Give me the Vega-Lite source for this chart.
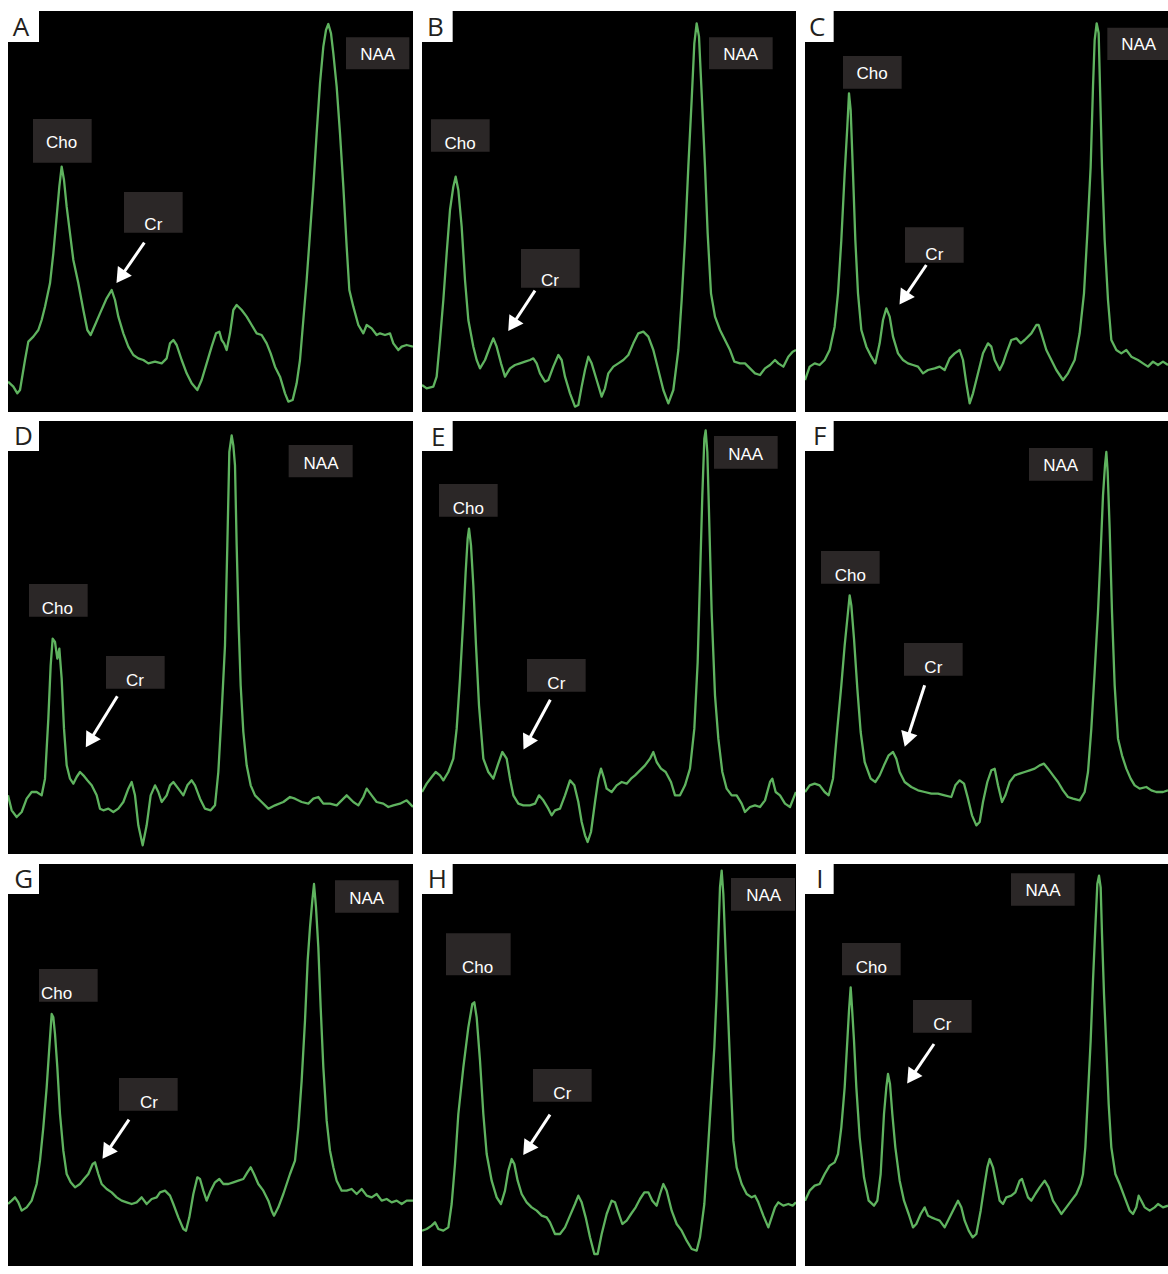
{
"$schema":"https://vega.github.io/schema/vega-lite/v6.json",
"background":"white",
"padding":{"left":8,"top":11,"right":0,"bottom":0},
"config":{"view":{"stroke":null,"fill":"black"}},
"datasets":{
"spec":[
{"p":"A","x":24,"y":1145},{"p":"A","x":40,"y":1160},{"p":"A","x":52,"y":1180},{"p":"A","x":60,"y":1170},{"p":"A","x":75,"y":1080},{"p":"A","x":85,"y":1025},{"p":"A","x":100,"y":1010},{"p":"A","x":115,"y":990},{"p":"A","x":125,"y":960},{"p":"A","x":135,"y":920},{"p":"A","x":150,"y":850},{"p":"A","x":160,"y":760},{"p":"A","x":170,"y":650},{"p":"A","x":178,"y":560},{"p":"A","x":185,"y":500},{"p":"A","x":192,"y":540},{"p":"A","x":200,"y":620},{"p":"A","x":210,"y":700},{"p":"A","x":220,"y":780},{"p":"A","x":235,"y":850},{"p":"A","x":250,"y":930},{"p":"A","x":262,"y":990},{"p":"A","x":272,"y":1005},{"p":"A","x":285,"y":975},{"p":"A","x":300,"y":940},{"p":"A","x":320,"y":895},{"p":"A","x":335,"y":870},{"p":"A","x":345,"y":900},{"p":"A","x":355,"y":950},{"p":"A","x":370,"y":1000},{"p":"A","x":385,"y":1040},{"p":"A","x":400,"y":1065},{"p":"A","x":415,"y":1075},{"p":"A","x":430,"y":1080},{"p":"A","x":445,"y":1090},{"p":"A","x":465,"y":1085},{"p":"A","x":485,"y":1090},{"p":"A","x":500,"y":1075},{"p":"A","x":510,"y":1030},{"p":"A","x":520,"y":1020},{"p":"A","x":530,"y":1035},{"p":"A","x":545,"y":1080},{"p":"A","x":560,"y":1120},{"p":"A","x":575,"y":1150},{"p":"A","x":592,"y":1170},{"p":"A","x":605,"y":1140},{"p":"A","x":620,"y":1090},{"p":"A","x":635,"y":1040},{"p":"A","x":648,"y":1000},{"p":"A","x":658,"y":995},{"p":"A","x":665,"y":1020},{"p":"A","x":672,"y":1030},{"p":"A","x":680,"y":1050},{"p":"A","x":690,"y":1000},{"p":"A","x":700,"y":930},{"p":"A","x":710,"y":915},{"p":"A","x":725,"y":930},{"p":"A","x":740,"y":950},{"p":"A","x":755,"y":975},{"p":"A","x":770,"y":1000},{"p":"A","x":785,"y":1005},{"p":"A","x":800,"y":1030},{"p":"A","x":812,"y":1060},{"p":"A","x":825,"y":1100},{"p":"A","x":840,"y":1130},{"p":"A","x":855,"y":1180},{"p":"A","x":865,"y":1205},{"p":"A","x":878,"y":1200},{"p":"A","x":890,"y":1150},{"p":"A","x":900,"y":1080},{"p":"A","x":910,"y":960},{"p":"A","x":920,"y":840},{"p":"A","x":930,"y":700},{"p":"A","x":940,"y":560},{"p":"A","x":950,"y":400},{"p":"A","x":960,"y":250},{"p":"A","x":970,"y":140},{"p":"A","x":978,"y":90},{"p":"A","x":985,"y":72},{"p":"A","x":993,"y":100},{"p":"A","x":1000,"y":160},{"p":"A","x":1010,"y":260},{"p":"A","x":1020,"y":400},{"p":"A","x":1030,"y":560},{"p":"A","x":1040,"y":740},{"p":"A","x":1048,"y":870},{"p":"A","x":1060,"y":920},{"p":"A","x":1075,"y":975},{"p":"A","x":1090,"y":1000},{"p":"A","x":1100,"y":975},{"p":"A","x":1115,"y":985},{"p":"A","x":1130,"y":1005},{"p":"A","x":1140,"y":1000},{"p":"A","x":1155,"y":1005},{"p":"A","x":1170,"y":1000},{"p":"A","x":1180,"y":1030},{"p":"A","x":1195,"y":1050},{"p":"A","x":1205,"y":1040},{"p":"A","x":1220,"y":1035},{"p":"A","x":1239,"y":1040},
{"p":"B","x":21,"y":1155},{"p":"B","x":35,"y":1165},{"p":"B","x":55,"y":1160},{"p":"B","x":65,"y":1130},{"p":"B","x":75,"y":1020},{"p":"B","x":85,"y":900},{"p":"B","x":95,"y":760},{"p":"B","x":105,"y":630},{"p":"B","x":115,"y":560},{"p":"B","x":122,"y":530},{"p":"B","x":130,"y":570},{"p":"B","x":140,"y":680},{"p":"B","x":150,"y":840},{"p":"B","x":160,"y":960},{"p":"B","x":175,"y":1040},{"p":"B","x":185,"y":1080},{"p":"B","x":195,"y":1105},{"p":"B","x":210,"y":1080},{"p":"B","x":225,"y":1040},{"p":"B","x":235,"y":1015},{"p":"B","x":245,"y":1040},{"p":"B","x":258,"y":1090},{"p":"B","x":270,"y":1130},{"p":"B","x":285,"y":1105},{"p":"B","x":300,"y":1095},{"p":"B","x":315,"y":1090},{"p":"B","x":330,"y":1085},{"p":"B","x":345,"y":1080},{"p":"B","x":355,"y":1075},{"p":"B","x":365,"y":1090},{"p":"B","x":375,"y":1120},{"p":"B","x":390,"y":1145},{"p":"B","x":400,"y":1140},{"p":"B","x":415,"y":1100},{"p":"B","x":430,"y":1065},{"p":"B","x":440,"y":1080},{"p":"B","x":450,"y":1130},{"p":"B","x":465,"y":1180},{"p":"B","x":480,"y":1220},{"p":"B","x":490,"y":1215},{"p":"B","x":500,"y":1160},{"p":"B","x":510,"y":1110},{"p":"B","x":520,"y":1070},{"p":"B","x":530,"y":1090},{"p":"B","x":545,"y":1140},{"p":"B","x":560,"y":1190},{"p":"B","x":570,"y":1165},{"p":"B","x":580,"y":1120},{"p":"B","x":595,"y":1100},{"p":"B","x":610,"y":1090},{"p":"B","x":625,"y":1080},{"p":"B","x":640,"y":1065},{"p":"B","x":655,"y":1030},{"p":"B","x":670,"y":1000},{"p":"B","x":685,"y":995},{"p":"B","x":700,"y":1010},{"p":"B","x":715,"y":1050},{"p":"B","x":730,"y":1110},{"p":"B","x":745,"y":1170},{"p":"B","x":760,"y":1210},{"p":"B","x":775,"y":1170},{"p":"B","x":790,"y":1050},{"p":"B","x":800,"y":900},{"p":"B","x":810,"y":720},{"p":"B","x":820,"y":500},{"p":"B","x":830,"y":300},{"p":"B","x":838,"y":130},{"p":"B","x":845,"y":70},{"p":"B","x":852,"y":110},{"p":"B","x":860,"y":280},{"p":"B","x":870,"y":500},{"p":"B","x":878,"y":700},{"p":"B","x":888,"y":880},{"p":"B","x":900,"y":950},{"p":"B","x":915,"y":990},{"p":"B","x":930,"y":1020},{"p":"B","x":945,"y":1050},{"p":"B","x":958,"y":1085},{"p":"B","x":975,"y":1090},{"p":"B","x":990,"y":1090},{"p":"B","x":1005,"y":1105},{"p":"B","x":1020,"y":1120},{"p":"B","x":1035,"y":1125},{"p":"B","x":1050,"y":1105},{"p":"B","x":1065,"y":1095},{"p":"B","x":1080,"y":1080},{"p":"B","x":1090,"y":1090},{"p":"B","x":1105,"y":1100},{"p":"B","x":1120,"y":1070},{"p":"B","x":1133,"y":1055},{"p":"B","x":1143,"y":1050},
{"p":"C","x":21,"y":1140},{"p":"C","x":35,"y":1100},{"p":"C","x":50,"y":1090},{"p":"C","x":65,"y":1095},{"p":"C","x":80,"y":1080},{"p":"C","x":95,"y":1050},{"p":"C","x":110,"y":980},{"p":"C","x":120,"y":880},{"p":"C","x":130,"y":720},{"p":"C","x":140,"y":520},{"p":"C","x":148,"y":380},{"p":"C","x":153,"y":280},{"p":"C","x":158,"y":330},{"p":"C","x":165,"y":520},{"p":"C","x":172,"y":720},{"p":"C","x":180,"y":880},{"p":"C","x":190,"y":990},{"p":"C","x":205,"y":1040},{"p":"C","x":220,"y":1070},{"p":"C","x":232,"y":1090},{"p":"C","x":245,"y":1030},{"p":"C","x":255,"y":960},{"p":"C","x":265,"y":925},{"p":"C","x":275,"y":950},{"p":"C","x":285,"y":1010},{"p":"C","x":300,"y":1060},{"p":"C","x":315,"y":1080},{"p":"C","x":330,"y":1090},{"p":"C","x":345,"y":1095},{"p":"C","x":360,"y":1100},{"p":"C","x":375,"y":1120},{"p":"C","x":390,"y":1110},{"p":"C","x":410,"y":1105},{"p":"C","x":425,"y":1100},{"p":"C","x":440,"y":1110},{"p":"C","x":455,"y":1075},{"p":"C","x":470,"y":1060},{"p":"C","x":485,"y":1050},{"p":"C","x":495,"y":1080},{"p":"C","x":505,"y":1150},{"p":"C","x":515,"y":1210},{"p":"C","x":525,"y":1180},{"p":"C","x":540,"y":1120},{"p":"C","x":555,"y":1060},{"p":"C","x":570,"y":1030},{"p":"C","x":580,"y":1040},{"p":"C","x":590,"y":1080},{"p":"C","x":605,"y":1110},{"p":"C","x":615,"y":1090},{"p":"C","x":625,"y":1060},{"p":"C","x":640,"y":1020},{"p":"C","x":655,"y":1015},{"p":"C","x":668,"y":1030},{"p":"C","x":680,"y":1020},{"p":"C","x":700,"y":1000},{"p":"C","x":715,"y":975},{"p":"C","x":722,"y":975},{"p":"C","x":730,"y":1000},{"p":"C","x":745,"y":1050},{"p":"C","x":760,"y":1080},{"p":"C","x":775,"y":1110},{"p":"C","x":795,"y":1140},{"p":"C","x":810,"y":1120},{"p":"C","x":830,"y":1080},{"p":"C","x":845,"y":1000},{"p":"C","x":858,"y":880},{"p":"C","x":868,"y":700},{"p":"C","x":878,"y":500},{"p":"C","x":885,"y":260},{"p":"C","x":890,"y":120},{"p":"C","x":896,"y":70},{"p":"C","x":902,"y":100},{"p":"C","x":906,"y":260},{"p":"C","x":912,"y":500},{"p":"C","x":920,"y":720},{"p":"C","x":930,"y":900},{"p":"C","x":940,"y":1020},{"p":"C","x":955,"y":1050},{"p":"C","x":970,"y":1060},{"p":"C","x":985,"y":1050},{"p":"C","x":1000,"y":1070},{"p":"C","x":1020,"y":1080},{"p":"C","x":1035,"y":1090},{"p":"C","x":1050,"y":1100},{"p":"C","x":1065,"y":1085},{"p":"C","x":1080,"y":1095},{"p":"C","x":1095,"y":1085},{"p":"C","x":1110,"y":1095},
{"p":"D","x":24,"y":1150},{"p":"D","x":35,"y":1195},{"p":"D","x":50,"y":1215},{"p":"D","x":65,"y":1200},{"p":"D","x":80,"y":1160},{"p":"D","x":95,"y":1140},{"p":"D","x":110,"y":1140},{"p":"D","x":125,"y":1150},{"p":"D","x":135,"y":1100},{"p":"D","x":145,"y":920},{"p":"D","x":152,"y":760},{"p":"D","x":158,"y":680},{"p":"D","x":165,"y":690},{"p":"D","x":172,"y":740},{"p":"D","x":178,"y":710},{"p":"D","x":185,"y":800},{"p":"D","x":192,"y":950},{"p":"D","x":200,"y":1060},{"p":"D","x":210,"y":1100},{"p":"D","x":220,"y":1115},{"p":"D","x":230,"y":1095},{"p":"D","x":240,"y":1080},{"p":"D","x":250,"y":1090},{"p":"D","x":262,"y":1105},{"p":"D","x":275,"y":1120},{"p":"D","x":290,"y":1150},{"p":"D","x":300,"y":1190},{"p":"D","x":310,"y":1195},{"p":"D","x":325,"y":1190},{"p":"D","x":340,"y":1200},{"p":"D","x":355,"y":1190},{"p":"D","x":370,"y":1170},{"p":"D","x":385,"y":1130},{"p":"D","x":395,"y":1110},{"p":"D","x":405,"y":1150},{"p":"D","x":415,"y":1240},{"p":"D","x":428,"y":1300},{"p":"D","x":440,"y":1240},{"p":"D","x":452,"y":1150},{"p":"D","x":465,"y":1120},{"p":"D","x":475,"y":1140},{"p":"D","x":485,"y":1170},{"p":"D","x":500,"y":1150},{"p":"D","x":510,"y":1120},{"p":"D","x":520,"y":1110},{"p":"D","x":535,"y":1130},{"p":"D","x":550,"y":1150},{"p":"D","x":562,"y":1120},{"p":"D","x":575,"y":1105},{"p":"D","x":585,"y":1120},{"p":"D","x":600,"y":1160},{"p":"D","x":615,"y":1190},{"p":"D","x":632,"y":1195},{"p":"D","x":645,"y":1180},{"p":"D","x":655,"y":1080},{"p":"D","x":665,"y":900},{"p":"D","x":675,"y":700},{"p":"D","x":682,"y":400},{"p":"D","x":688,"y":120},{"p":"D","x":695,"y":70},{"p":"D","x":700,"y":100},{"p":"D","x":705,"y":160},{"p":"D","x":710,"y":400},{"p":"D","x":716,"y":640},{"p":"D","x":722,"y":820},{"p":"D","x":730,"y":960},{"p":"D","x":740,"y":1060},{"p":"D","x":752,"y":1120},{"p":"D","x":765,"y":1150},{"p":"D","x":785,"y":1170},{"p":"D","x":805,"y":1190},{"p":"D","x":825,"y":1180},{"p":"D","x":850,"y":1170},{"p":"D","x":870,"y":1155},{"p":"D","x":885,"y":1160},{"p":"D","x":905,"y":1170},{"p":"D","x":925,"y":1175},{"p":"D","x":940,"y":1160},{"p":"D","x":955,"y":1155},{"p":"D","x":970,"y":1175},{"p":"D","x":990,"y":1175},{"p":"D","x":1010,"y":1180},{"p":"D","x":1025,"y":1165},{"p":"D","x":1040,"y":1150},{"p":"D","x":1060,"y":1170},{"p":"D","x":1075,"y":1180},{"p":"D","x":1090,"y":1155},{"p":"D","x":1100,"y":1130},{"p":"D","x":1115,"y":1150},{"p":"D","x":1130,"y":1170},{"p":"D","x":1150,"y":1175},{"p":"D","x":1165,"y":1185},{"p":"D","x":1180,"y":1180},{"p":"D","x":1200,"y":1175},{"p":"D","x":1220,"y":1165},{"p":"D","x":1239,"y":1185},
{"p":"E","x":21,"y":1140},{"p":"E","x":35,"y":1115},{"p":"E","x":50,"y":1095},{"p":"E","x":62,"y":1080},{"p":"E","x":75,"y":1090},{"p":"E","x":85,"y":1105},{"p":"E","x":100,"y":1080},{"p":"E","x":115,"y":1040},{"p":"E","x":125,"y":950},{"p":"E","x":135,"y":800},{"p":"E","x":145,"y":620},{"p":"E","x":152,"y":480},{"p":"E","x":158,"y":380},{"p":"E","x":162,"y":350},{"p":"E","x":168,"y":400},{"p":"E","x":175,"y":520},{"p":"E","x":183,"y":700},{"p":"E","x":192,"y":880},{"p":"E","x":205,"y":1040},{"p":"E","x":220,"y":1080},{"p":"E","x":235,"y":1100},{"p":"E","x":248,"y":1060},{"p":"E","x":262,"y":1020},{"p":"E","x":275,"y":1040},{"p":"E","x":285,"y":1100},{"p":"E","x":295,"y":1150},{"p":"E","x":310,"y":1175},{"p":"E","x":325,"y":1180},{"p":"E","x":345,"y":1180},{"p":"E","x":360,"y":1175},{"p":"E","x":372,"y":1150},{"p":"E","x":385,"y":1165},{"p":"E","x":400,"y":1190},{"p":"E","x":410,"y":1210},{"p":"E","x":420,"y":1195},{"p":"E","x":435,"y":1190},{"p":"E","x":450,"y":1150},{"p":"E","x":465,"y":1105},{"p":"E","x":478,"y":1120},{"p":"E","x":490,"y":1170},{"p":"E","x":500,"y":1230},{"p":"E","x":510,"y":1270},{"p":"E","x":518,"y":1290},{"p":"E","x":528,"y":1260},{"p":"E","x":540,"y":1170},{"p":"E","x":550,"y":1100},{"p":"E","x":558,"y":1070},{"p":"E","x":566,"y":1095},{"p":"E","x":575,"y":1130},{"p":"E","x":590,"y":1140},{"p":"E","x":605,"y":1120},{"p":"E","x":620,"y":1110},{"p":"E","x":635,"y":1115},{"p":"E","x":648,"y":1100},{"p":"E","x":660,"y":1090},{"p":"E","x":675,"y":1075},{"p":"E","x":690,"y":1060},{"p":"E","x":705,"y":1040},{"p":"E","x":715,"y":1020},{"p":"E","x":725,"y":1050},{"p":"E","x":738,"y":1070},{"p":"E","x":752,"y":1080},{"p":"E","x":768,"y":1110},{"p":"E","x":780,"y":1150},{"p":"E","x":795,"y":1150},{"p":"E","x":810,"y":1120},{"p":"E","x":825,"y":1070},{"p":"E","x":838,"y":950},{"p":"E","x":848,"y":750},{"p":"E","x":855,"y":500},{"p":"E","x":862,"y":250},{"p":"E","x":868,"y":80},{"p":"E","x":872,"y":55},{"p":"E","x":877,"y":120},{"p":"E","x":882,"y":300},{"p":"E","x":890,"y":600},{"p":"E","x":900,"y":850},{"p":"E","x":910,"y":980},{"p":"E","x":922,"y":1080},{"p":"E","x":935,"y":1130},{"p":"E","x":950,"y":1150},{"p":"E","x":965,"y":1150},{"p":"E","x":980,"y":1175},{"p":"E","x":990,"y":1200},{"p":"E","x":1005,"y":1185},{"p":"E","x":1020,"y":1180},{"p":"E","x":1035,"y":1185},{"p":"E","x":1050,"y":1165},{"p":"E","x":1065,"y":1110},{"p":"E","x":1072,"y":1100},{"p":"E","x":1082,"y":1140},{"p":"E","x":1095,"y":1150},{"p":"E","x":1110,"y":1175},{"p":"E","x":1125,"y":1185},{"p":"E","x":1135,"y":1160},{"p":"E","x":1143,"y":1140},
{"p":"F","x":21,"y":1140},{"p":"F","x":35,"y":1120},{"p":"F","x":50,"y":1115},{"p":"F","x":65,"y":1120},{"p":"F","x":80,"y":1140},{"p":"F","x":92,"y":1150},{"p":"F","x":105,"y":1100},{"p":"F","x":118,"y":950},{"p":"F","x":130,"y":820},{"p":"F","x":140,"y":700},{"p":"F","x":150,"y":600},{"p":"F","x":155,"y":550},{"p":"F","x":160,"y":580},{"p":"F","x":168,"y":680},{"p":"F","x":178,"y":830},{"p":"F","x":188,"y":960},{"p":"F","x":200,"y":1050},{"p":"F","x":218,"y":1100},{"p":"F","x":232,"y":1110},{"p":"F","x":245,"y":1090},{"p":"F","x":258,"y":1060},{"p":"F","x":272,"y":1030},{"p":"F","x":285,"y":1020},{"p":"F","x":295,"y":1040},{"p":"F","x":305,"y":1080},{"p":"F","x":320,"y":1110},{"p":"F","x":340,"y":1125},{"p":"F","x":360,"y":1135},{"p":"F","x":380,"y":1140},{"p":"F","x":400,"y":1145},{"p":"F","x":420,"y":1145},{"p":"F","x":440,"y":1150},{"p":"F","x":460,"y":1155},{"p":"F","x":472,"y":1120},{"p":"F","x":485,"y":1105},{"p":"F","x":498,"y":1115},{"p":"F","x":510,"y":1160},{"p":"F","x":522,"y":1210},{"p":"F","x":535,"y":1240},{"p":"F","x":545,"y":1230},{"p":"F","x":555,"y":1170},{"p":"F","x":568,"y":1110},{"p":"F","x":580,"y":1075},{"p":"F","x":590,"y":1070},{"p":"F","x":600,"y":1120},{"p":"F","x":612,"y":1170},{"p":"F","x":622,"y":1150},{"p":"F","x":635,"y":1110},{"p":"F","x":650,"y":1090},{"p":"F","x":665,"y":1085},{"p":"F","x":680,"y":1080},{"p":"F","x":695,"y":1075},{"p":"F","x":710,"y":1070},{"p":"F","x":725,"y":1060},{"p":"F","x":738,"y":1055},{"p":"F","x":750,"y":1070},{"p":"F","x":765,"y":1090},{"p":"F","x":780,"y":1110},{"p":"F","x":795,"y":1135},{"p":"F","x":810,"y":1155},{"p":"F","x":825,"y":1160},{"p":"F","x":845,"y":1165},{"p":"F","x":860,"y":1140},{"p":"F","x":870,"y":1080},{"p":"F","x":880,"y":950},{"p":"F","x":890,"y":780},{"p":"F","x":900,"y":600},{"p":"F","x":908,"y":420},{"p":"F","x":915,"y":250},{"p":"F","x":921,"y":160},{"p":"F","x":925,"y":120},{"p":"F","x":929,"y":180},{"p":"F","x":935,"y":350},{"p":"F","x":942,"y":600},{"p":"F","x":950,"y":820},{"p":"F","x":960,"y":980},{"p":"F","x":972,"y":1030},{"p":"F","x":985,"y":1070},{"p":"F","x":998,"y":1100},{"p":"F","x":1010,"y":1120},{"p":"F","x":1025,"y":1130},{"p":"F","x":1045,"y":1125},{"p":"F","x":1060,"y":1135},{"p":"F","x":1075,"y":1140},{"p":"F","x":1095,"y":1140},{"p":"F","x":1110,"y":1135},
{"p":"G","x":24,"y":1050},{"p":"G","x":35,"y":1040},{"p":"G","x":45,"y":1030},{"p":"G","x":55,"y":1045},{"p":"G","x":65,"y":1070},{"p":"G","x":80,"y":1060},{"p":"G","x":95,"y":1040},{"p":"G","x":110,"y":990},{"p":"G","x":120,"y":920},{"p":"G","x":130,"y":820},{"p":"G","x":140,"y":700},{"p":"G","x":148,"y":580},{"p":"G","x":155,"y":480},{"p":"G","x":160,"y":490},{"p":"G","x":165,"y":540},{"p":"G","x":172,"y":640},{"p":"G","x":180,"y":780},{"p":"G","x":190,"y":890},{"p":"G","x":200,"y":960},{"p":"G","x":212,"y":985},{"p":"G","x":225,"y":1000},{"p":"G","x":240,"y":990},{"p":"G","x":252,"y":975},{"p":"G","x":265,"y":960},{"p":"G","x":278,"y":930},{"p":"G","x":285,"y":925},{"p":"G","x":295,"y":960},{"p":"G","x":305,"y":990},{"p":"G","x":320,"y":1005},{"p":"G","x":335,"y":1015},{"p":"G","x":350,"y":1030},{"p":"G","x":365,"y":1040},{"p":"G","x":380,"y":1045},{"p":"G","x":395,"y":1050},{"p":"G","x":410,"y":1045},{"p":"G","x":425,"y":1030},{"p":"G","x":440,"y":1050},{"p":"G","x":455,"y":1035},{"p":"G","x":470,"y":1030},{"p":"G","x":480,"y":1015},{"p":"G","x":495,"y":1010},{"p":"G","x":510,"y":1025},{"p":"G","x":520,"y":1050},{"p":"G","x":535,"y":1090},{"p":"G","x":550,"y":1125},{"p":"G","x":558,"y":1130},{"p":"G","x":568,"y":1090},{"p":"G","x":580,"y":1020},{"p":"G","x":592,"y":970},{"p":"G","x":600,"y":975},{"p":"G","x":610,"y":1010},{"p":"G","x":620,"y":1040},{"p":"G","x":632,"y":1010},{"p":"G","x":645,"y":985},{"p":"G","x":658,"y":975},{"p":"G","x":670,"y":990},{"p":"G","x":685,"y":990},{"p":"G","x":700,"y":985},{"p":"G","x":715,"y":980},{"p":"G","x":730,"y":975},{"p":"G","x":742,"y":955},{"p":"G","x":752,"y":940},{"p":"G","x":762,"y":960},{"p":"G","x":775,"y":990},{"p":"G","x":790,"y":1010},{"p":"G","x":805,"y":1040},{"p":"G","x":815,"y":1070},{"p":"G","x":822,"y":1085},{"p":"G","x":835,"y":1060},{"p":"G","x":850,"y":1020},{"p":"G","x":870,"y":960},{"p":"G","x":885,"y":920},{"p":"G","x":895,"y":820},{"p":"G","x":905,"y":680},{"p":"G","x":915,"y":500},{"p":"G","x":923,"y":320},{"p":"G","x":930,"y":220},{"p":"G","x":937,"y":140},{"p":"G","x":942,"y":90},{"p":"G","x":948,"y":160},{"p":"G","x":955,"y":280},{"p":"G","x":962,"y":460},{"p":"G","x":970,"y":640},{"p":"G","x":980,"y":800},{"p":"G","x":990,"y":890},{"p":"G","x":1000,"y":940},{"p":"G","x":1010,"y":980},{"p":"G","x":1025,"y":1010},{"p":"G","x":1040,"y":1010},{"p":"G","x":1055,"y":1005},{"p":"G","x":1070,"y":1020},{"p":"G","x":1085,"y":1005},{"p":"G","x":1100,"y":1025},{"p":"G","x":1115,"y":1030},{"p":"G","x":1130,"y":1020},{"p":"G","x":1145,"y":1040},{"p":"G","x":1160,"y":1035},{"p":"G","x":1175,"y":1045},{"p":"G","x":1190,"y":1040},{"p":"G","x":1205,"y":1050},{"p":"G","x":1220,"y":1040},{"p":"G","x":1239,"y":1040},
{"p":"H","x":21,"y":1130},{"p":"H","x":35,"y":1125},{"p":"H","x":50,"y":1115},{"p":"H","x":60,"y":1105},{"p":"H","x":70,"y":1125},{"p":"H","x":85,"y":1130},{"p":"H","x":100,"y":1120},{"p":"H","x":110,"y":1050},{"p":"H","x":120,"y":930},{"p":"H","x":130,"y":780},{"p":"H","x":145,"y":640},{"p":"H","x":160,"y":520},{"p":"H","x":172,"y":450},{"p":"H","x":178,"y":445},{"p":"H","x":185,"y":490},{"p":"H","x":195,"y":620},{"p":"H","x":205,"y":780},{"p":"H","x":215,"y":900},{"p":"H","x":230,"y":980},{"p":"H","x":245,"y":1030},{"p":"H","x":258,"y":1050},{"p":"H","x":270,"y":1010},{"p":"H","x":280,"y":950},{"p":"H","x":290,"y":915},{"p":"H","x":298,"y":930},{"p":"H","x":308,"y":980},{"p":"H","x":320,"y":1020},{"p":"H","x":335,"y":1045},{"p":"H","x":350,"y":1060},{"p":"H","x":365,"y":1070},{"p":"H","x":380,"y":1085},{"p":"H","x":395,"y":1090},{"p":"H","x":405,"y":1105},{"p":"H","x":420,"y":1140},{"p":"H","x":435,"y":1140},{"p":"H","x":450,"y":1120},{"p":"H","x":465,"y":1085},{"p":"H","x":480,"y":1050},{"p":"H","x":490,"y":1025},{"p":"H","x":500,"y":1045},{"p":"H","x":512,"y":1090},{"p":"H","x":525,"y":1150},{"p":"H","x":538,"y":1200},{"p":"H","x":548,"y":1200},{"p":"H","x":560,"y":1140},{"p":"H","x":575,"y":1080},{"p":"H","x":590,"y":1040},{"p":"H","x":600,"y":1045},{"p":"H","x":610,"y":1075},{"p":"H","x":622,"y":1110},{"p":"H","x":635,"y":1100},{"p":"H","x":648,"y":1080},{"p":"H","x":662,"y":1060},{"p":"H","x":675,"y":1035},{"p":"H","x":688,"y":1015},{"p":"H","x":700,"y":1015},{"p":"H","x":712,"y":1040},{"p":"H","x":725,"y":1055},{"p":"H","x":735,"y":1020},{"p":"H","x":745,"y":990},{"p":"H","x":755,"y":1010},{"p":"H","x":770,"y":1070},{"p":"H","x":785,"y":1110},{"p":"H","x":800,"y":1130},{"p":"H","x":815,"y":1160},{"p":"H","x":830,"y":1185},{"p":"H","x":845,"y":1190},{"p":"H","x":855,"y":1150},{"p":"H","x":868,"y":1050},{"p":"H","x":878,"y":900},{"p":"H","x":888,"y":740},{"p":"H","x":898,"y":580},{"p":"H","x":905,"y":420},{"p":"H","x":910,"y":250},{"p":"H","x":915,"y":100},{"p":"H","x":920,"y":50},{"p":"H","x":925,"y":120},{"p":"H","x":932,"y":300},{"p":"H","x":940,"y":500},{"p":"H","x":948,"y":700},{"p":"H","x":955,"y":860},{"p":"H","x":965,"y":940},{"p":"H","x":980,"y":990},{"p":"H","x":995,"y":1020},{"p":"H","x":1010,"y":1030},{"p":"H","x":1020,"y":1025},{"p":"H","x":1030,"y":1045},{"p":"H","x":1045,"y":1085},{"p":"H","x":1060,"y":1120},{"p":"H","x":1070,"y":1090},{"p":"H","x":1080,"y":1060},{"p":"H","x":1090,"y":1045},{"p":"H","x":1105,"y":1055},{"p":"H","x":1120,"y":1050},{"p":"H","x":1133,"y":1055},{"p":"H","x":1143,"y":1045},
{"p":"I","x":21,"y":1040},{"p":"I","x":35,"y":1010},{"p":"I","x":50,"y":995},{"p":"I","x":65,"y":990},{"p":"I","x":80,"y":960},{"p":"I","x":95,"y":935},{"p":"I","x":110,"y":925},{"p":"I","x":120,"y":900},{"p":"I","x":130,"y":820},{"p":"I","x":140,"y":700},{"p":"I","x":148,"y":560},{"p":"I","x":153,"y":470},{"p":"I","x":158,"y":400},{"p":"I","x":162,"y":460},{"p":"I","x":168,"y":560},{"p":"I","x":175,"y":700},{"p":"I","x":185,"y":850},{"p":"I","x":198,"y":970},{"p":"I","x":212,"y":1040},{"p":"I","x":228,"y":1055},{"p":"I","x":238,"y":1040},{"p":"I","x":248,"y":960},{"p":"I","x":258,"y":780},{"p":"I","x":265,"y":700},{"p":"I","x":270,"y":660},{"p":"I","x":276,"y":690},{"p":"I","x":283,"y":780},{"p":"I","x":292,"y":880},{"p":"I","x":305,"y":980},{"p":"I","x":318,"y":1040},{"p":"I","x":332,"y":1080},{"p":"I","x":345,"y":1120},{"p":"I","x":355,"y":1110},{"p":"I","x":368,"y":1080},{"p":"I","x":380,"y":1060},{"p":"I","x":390,"y":1085},{"p":"I","x":400,"y":1090},{"p":"I","x":412,"y":1095},{"p":"I","x":425,"y":1100},{"p":"I","x":440,"y":1120},{"p":"I","x":455,"y":1090},{"p":"I","x":470,"y":1060},{"p":"I","x":480,"y":1040},{"p":"I","x":490,"y":1060},{"p":"I","x":500,"y":1100},{"p":"I","x":512,"y":1130},{"p":"I","x":524,"y":1150},{"p":"I","x":535,"y":1140},{"p":"I","x":548,"y":1070},{"p":"I","x":560,"y":990},{"p":"I","x":568,"y":940},{"p":"I","x":575,"y":915},{"p":"I","x":585,"y":940},{"p":"I","x":595,"y":990},{"p":"I","x":605,"y":1040},{"p":"I","x":615,"y":1050},{"p":"I","x":625,"y":1030},{"p":"I","x":640,"y":1025},{"p":"I","x":652,"y":1015},{"p":"I","x":665,"y":980},{"p":"I","x":672,"y":975},{"p":"I","x":680,"y":1000},{"p":"I","x":690,"y":1030},{"p":"I","x":700,"y":1040},{"p":"I","x":712,"y":1020},{"p":"I","x":725,"y":1000},{"p":"I","x":740,"y":980},{"p":"I","x":752,"y":1000},{"p":"I","x":765,"y":1040},{"p":"I","x":778,"y":1060},{"p":"I","x":790,"y":1080},{"p":"I","x":805,"y":1060},{"p":"I","x":820,"y":1040},{"p":"I","x":835,"y":1020},{"p":"I","x":848,"y":990},{"p":"I","x":855,"y":960},{"p":"I","x":862,"y":880},{"p":"I","x":870,"y":720},{"p":"I","x":878,"y":560},{"p":"I","x":885,"y":380},{"p":"I","x":892,"y":220},{"p":"I","x":898,"y":90},{"p":"I","x":903,"y":65},{"p":"I","x":908,"y":100},{"p":"I","x":912,"y":240},{"p":"I","x":918,"y":420},{"p":"I","x":925,"y":580},{"p":"I","x":932,"y":750},{"p":"I","x":940,"y":880},{"p":"I","x":952,"y":960},{"p":"I","x":965,"y":990},{"p":"I","x":980,"y":1030},{"p":"I","x":995,"y":1070},{"p":"I","x":1005,"y":1080},{"p":"I","x":1015,"y":1060},{"p":"I","x":1022,"y":1025},{"p":"I","x":1030,"y":1040},{"p":"I","x":1040,"y":1060},{"p":"I","x":1055,"y":1070},{"p":"I","x":1070,"y":1060},{"p":"I","x":1080,"y":1050},{"p":"I","x":1095,"y":1060},{"p":"I","x":1110,"y":1055}
],
"lab":[
{"p":"A","label":"Cho","x1":99,"x2":275,"y1":357,"y2":488,"tx":185,"ty":443},
{"p":"A","label":"Cr","x1":372,"x2":548,"y1":576,"y2":698,"tx":460,"ty":690},
{"p":"A","label":"NAA","x1":1038,"x2":1228,"y1":112,"y2":208,"tx":1133,"ty":180},
{"p":"B","label":"Cho","x1":48,"x2":224,"y1":358,"y2":455,"tx":135,"ty":447},
{"p":"B","label":"Cr","x1":318,"x2":494,"y1":747,"y2":863,"tx":405,"ty":857},
{"p":"B","label":"NAA","x1":882,"x2":1073,"y1":112,"y2":208,"tx":977,"ty":181},
{"p":"C","label":"Cho","x1":135,"x2":311,"y1":168,"y2":266,"tx":222,"ty":238},
{"p":"C","label":"Cr","x1":321,"x2":497,"y1":682,"y2":788,"tx":409,"ty":780},
{"p":"C","label":"NAA","x1":928,"x2":1110,"y1":83,"y2":180,"tx":1022,"ty":151},
{"p":"D","label":"Cho","x1":87,"x2":263,"y1":516,"y2":614,"tx":172,"ty":607},
{"p":"D","label":"Cr","x1":318,"x2":494,"y1":732,"y2":830,"tx":405,"ty":822},
{"p":"D","label":"NAA","x1":866,"x2":1058,"y1":99,"y2":196,"tx":963,"ty":171},
{"p":"E","label":"Cho","x1":72,"x2":248,"y1":216,"y2":314,"tx":160,"ty":306},
{"p":"E","label":"Cr","x1":336,"x2":512,"y1":741,"y2":839,"tx":424,"ty":832},
{"p":"E","label":"NAA","x1":897,"x2":1088,"y1":72,"y2":170,"tx":992,"ty":145},
{"p":"F","label":"Cho","x1":69,"x2":245,"y1":417,"y2":515,"tx":157,"ty":507},
{"p":"F","label":"Cr","x1":318,"x2":494,"y1":693,"y2":791,"tx":406,"ty":783},
{"p":"F","label":"NAA","x1":693,"x2":884,"y1":108,"y2":206,"tx":788,"ty":178},
{"p":"G","label":"Cho","x1":117,"x2":293,"y1":345,"y2":443,"tx":170,"ty":436},
{"p":"G","label":"Cr","x1":357,"x2":533,"y1":672,"y2":770,"tx":447,"ty":762},
{"p":"G","label":"NAA","x1":1005,"x2":1196,"y1":79,"y2":176,"tx":1100,"ty":150},
{"p":"H","label":"Cho","x1":93,"x2":287,"y1":238,"y2":364,"tx":188,"ty":357},
{"p":"H","label":"Cr","x1":354,"x2":530,"y1":645,"y2":743,"tx":442,"ty":736},
{"p":"H","label":"NAA","x1":948,"x2":1140,"y1":72,"y2":170,"tx":1046,"ty":142},
{"p":"I","label":"Cho","x1":132,"x2":308,"y1":267,"y2":364,"tx":220,"ty":357},
{"p":"I","label":"Cr","x1":345,"x2":521,"y1":438,"y2":536,"tx":433,"ty":527},
{"p":"I","label":"NAA","x1":639,"x2":830,"y1":58,"y2":155,"tx":735,"ty":127}
],
"arr":[
{"p":"A","x1":433,"y1":728,"x2":362,"y2":831,"angle":214.7},
{"p":"B","x1":360,"y1":872,"x2":292,"y2":975,"angle":213.7},
{"p":"C","x1":385,"y1":795,"x2":317,"y2":895,"angle":214.4},
{"p":"D","x1":352,"y1":853,"x2":269,"y2":987,"angle":211.7},
{"p":"E","x1":406,"y1":863,"x2":336,"y2":993,"angle":208.4},
{"p":"F","x1":380,"y1":820,"x2":327,"y2":983,"angle":198.2},
{"p":"G","x1":387,"y1":797,"x2":320,"y2":896,"angle":214.3},
{"p":"H","x1":405,"y1":782,"x2":337,"y2":885,"angle":213.7},
{"p":"I","x1":408,"y1":570,"x2":340,"y2":670,"angle":214.4}
],
"let":[
{"p":"A","letter":"A","x1":24,"x2":117,"y1":33,"y2":126,"lx":38,"ly":108},
{"p":"B","letter":"B","x1":21,"x2":113,"y1":33,"y2":126,"lx":36,"ly":108},
{"p":"C","letter":"C","x1":21,"x2":107,"y1":33,"y2":126,"lx":33,"ly":108},
{"p":"D","letter":"D","x1":24,"x2":117,"y1":27,"y2":117,"lx":42,"ly":100},
{"p":"E","letter":"E","x1":21,"x2":113,"y1":27,"y2":117,"lx":48,"ly":102},
{"p":"F","letter":"F","x1":21,"x2":107,"y1":27,"y2":117,"lx":45,"ly":100},
{"p":"G","letter":"G","x1":24,"x2":117,"y1":27,"y2":120,"lx":43,"ly":103},
{"p":"H","letter":"H","x1":21,"x2":113,"y1":27,"y2":120,"lx":38,"ly":103},
{"p":"I","letter":"I","x1":21,"x2":107,"y1":27,"y2":120,"lx":55,"ly":103}
]
},
"vconcat":[
{"hconcat":[
{"width":405,"height":401,"layer":[
{"data":{"name":"spec"},"transform":[{"filter":"datum.p=='A'"}],"mark":{"type":"line","color":"#5fb35f","strokeWidth":2.3,"strokeJoin":"round","clip":true},"encoding":{"x":{"field":"x","type":"quantitative","scale":{"domain":[24,1239],"nice":false,"zero":false},"axis":null},"y":{"field":"y","type":"quantitative","scale":{"domain":[33,1236],"reverse":true,"nice":false,"zero":false},"axis":null}}},
{"data":{"name":"lab"},"transform":[{"filter":"datum.p=='A'"}],"mark":{"type":"rect","color":"#2b2727"},"encoding":{"x":{"field":"x1","type":"quantitative"},"x2":{"field":"x2"},"y":{"field":"y1","type":"quantitative"},"y2":{"field":"y2"}}},
{"data":{"name":"lab"},"transform":[{"filter":"datum.p=='A'"}],"mark":{"type":"text","color":"white","fontSize":17,"font":"Liberation Sans","align":"center","baseline":"alphabetic"},"encoding":{"x":{"field":"tx","type":"quantitative"},"y":{"field":"ty","type":"quantitative"},"text":{"field":"label"}}},
{"data":{"name":"arr"},"transform":[{"filter":"datum.p=='A'"}],"mark":{"type":"rule","color":"white","strokeWidth":3},"encoding":{"x":{"field":"x1","type":"quantitative"},"y":{"field":"y1","type":"quantitative"},"x2":{"field":"x2"},"y2":{"field":"y2"}}},
{"data":{"name":"arr"},"transform":[{"filter":"datum.p=='A'"}],"mark":{"type":"point","shape":"triangle-up","filled":true,"color":"white","size":289,"opacity":1,"strokeWidth":0},"encoding":{"x":{"field":"x2","type":"quantitative"},"y":{"field":"y2","type":"quantitative"},"angle":{"field":"angle","type":"quantitative","scale":null}}},
{"data":{"name":"let"},"transform":[{"filter":"datum.p=='A'"}],"mark":{"type":"rect","color":"white"},"encoding":{"x":{"field":"x1","type":"quantitative"},"x2":{"field":"x2"},"y":{"field":"y1","type":"quantitative"},"y2":{"field":"y2"}}},
{"data":{"name":"let"},"transform":[{"filter":"datum.p=='A'"}],"mark":{"type":"text","color":"#231f20","fontSize":26,"font":"Open Sans","fontWeight":"normal","align":"left","baseline":"alphabetic"},"encoding":{"x":{"field":"lx","type":"quantitative"},"y":{"field":"ly","type":"quantitative"},"text":{"field":"letter"}}}
]},
{"width":374,"height":401,"layer":[
{"data":{"name":"spec"},"transform":[{"filter":"datum.p=='B'"}],"mark":{"type":"line","color":"#5fb35f","strokeWidth":2.3,"strokeJoin":"round","clip":true},"encoding":{"x":{"field":"x","type":"quantitative","scale":{"domain":[21,1143],"nice":false,"zero":false},"axis":null},"y":{"field":"y","type":"quantitative","scale":{"domain":[33,1236],"reverse":true,"nice":false,"zero":false},"axis":null}}},
{"data":{"name":"lab"},"transform":[{"filter":"datum.p=='B'"}],"mark":{"type":"rect","color":"#2b2727"},"encoding":{"x":{"field":"x1","type":"quantitative"},"x2":{"field":"x2"},"y":{"field":"y1","type":"quantitative"},"y2":{"field":"y2"}}},
{"data":{"name":"lab"},"transform":[{"filter":"datum.p=='B'"}],"mark":{"type":"text","color":"white","fontSize":17,"font":"Liberation Sans","align":"center","baseline":"alphabetic"},"encoding":{"x":{"field":"tx","type":"quantitative"},"y":{"field":"ty","type":"quantitative"},"text":{"field":"label"}}},
{"data":{"name":"arr"},"transform":[{"filter":"datum.p=='B'"}],"mark":{"type":"rule","color":"white","strokeWidth":3},"encoding":{"x":{"field":"x1","type":"quantitative"},"y":{"field":"y1","type":"quantitative"},"x2":{"field":"x2"},"y2":{"field":"y2"}}},
{"data":{"name":"arr"},"transform":[{"filter":"datum.p=='B'"}],"mark":{"type":"point","shape":"triangle-up","filled":true,"color":"white","size":289,"opacity":1,"strokeWidth":0},"encoding":{"x":{"field":"x2","type":"quantitative"},"y":{"field":"y2","type":"quantitative"},"angle":{"field":"angle","type":"quantitative","scale":null}}},
{"data":{"name":"let"},"transform":[{"filter":"datum.p=='B'"}],"mark":{"type":"rect","color":"white"},"encoding":{"x":{"field":"x1","type":"quantitative"},"x2":{"field":"x2"},"y":{"field":"y1","type":"quantitative"},"y2":{"field":"y2"}}},
{"data":{"name":"let"},"transform":[{"filter":"datum.p=='B'"}],"mark":{"type":"text","color":"#231f20","fontSize":26,"font":"Open Sans","fontWeight":"normal","align":"left","baseline":"alphabetic"},"encoding":{"x":{"field":"lx","type":"quantitative"},"y":{"field":"ly","type":"quantitative"},"text":{"field":"letter"}}}
]},
{"width":363,"height":401,"layer":[
{"data":{"name":"spec"},"transform":[{"filter":"datum.p=='C'"}],"mark":{"type":"line","color":"#5fb35f","strokeWidth":2.3,"strokeJoin":"round","clip":true},"encoding":{"x":{"field":"x","type":"quantitative","scale":{"domain":[21,1110],"nice":false,"zero":false},"axis":null},"y":{"field":"y","type":"quantitative","scale":{"domain":[33,1236],"reverse":true,"nice":false,"zero":false},"axis":null}}},
{"data":{"name":"lab"},"transform":[{"filter":"datum.p=='C'"}],"mark":{"type":"rect","color":"#2b2727"},"encoding":{"x":{"field":"x1","type":"quantitative"},"x2":{"field":"x2"},"y":{"field":"y1","type":"quantitative"},"y2":{"field":"y2"}}},
{"data":{"name":"lab"},"transform":[{"filter":"datum.p=='C'"}],"mark":{"type":"text","color":"white","fontSize":17,"font":"Liberation Sans","align":"center","baseline":"alphabetic"},"encoding":{"x":{"field":"tx","type":"quantitative"},"y":{"field":"ty","type":"quantitative"},"text":{"field":"label"}}},
{"data":{"name":"arr"},"transform":[{"filter":"datum.p=='C'"}],"mark":{"type":"rule","color":"white","strokeWidth":3},"encoding":{"x":{"field":"x1","type":"quantitative"},"y":{"field":"y1","type":"quantitative"},"x2":{"field":"x2"},"y2":{"field":"y2"}}},
{"data":{"name":"arr"},"transform":[{"filter":"datum.p=='C'"}],"mark":{"type":"point","shape":"triangle-up","filled":true,"color":"white","size":289,"opacity":1,"strokeWidth":0},"encoding":{"x":{"field":"x2","type":"quantitative"},"y":{"field":"y2","type":"quantitative"},"angle":{"field":"angle","type":"quantitative","scale":null}}},
{"data":{"name":"let"},"transform":[{"filter":"datum.p=='C'"}],"mark":{"type":"rect","color":"white"},"encoding":{"x":{"field":"x1","type":"quantitative"},"x2":{"field":"x2"},"y":{"field":"y1","type":"quantitative"},"y2":{"field":"y2"}}},
{"data":{"name":"let"},"transform":[{"filter":"datum.p=='C'"}],"mark":{"type":"text","color":"#231f20","fontSize":26,"font":"Open Sans","fontWeight":"normal","align":"left","baseline":"alphabetic"},"encoding":{"x":{"field":"lx","type":"quantitative"},"y":{"field":"ly","type":"quantitative"},"text":{"field":"letter"}}}
]}
],"spacing":9,"bounds":"flush"},
{"hconcat":[
{"width":405,"height":433,"layer":[
{"data":{"name":"spec"},"transform":[{"filter":"datum.p=='D'"}],"mark":{"type":"line","color":"#5fb35f","strokeWidth":2.3,"strokeJoin":"round","clip":true},"encoding":{"x":{"field":"x","type":"quantitative","scale":{"domain":[24,1239],"nice":false,"zero":false},"axis":null},"y":{"field":"y","type":"quantitative","scale":{"domain":[27,1326],"reverse":true,"nice":false,"zero":false},"axis":null}}},
{"data":{"name":"lab"},"transform":[{"filter":"datum.p=='D'"}],"mark":{"type":"rect","color":"#2b2727"},"encoding":{"x":{"field":"x1","type":"quantitative"},"x2":{"field":"x2"},"y":{"field":"y1","type":"quantitative"},"y2":{"field":"y2"}}},
{"data":{"name":"lab"},"transform":[{"filter":"datum.p=='D'"}],"mark":{"type":"text","color":"white","fontSize":17,"font":"Liberation Sans","align":"center","baseline":"alphabetic"},"encoding":{"x":{"field":"tx","type":"quantitative"},"y":{"field":"ty","type":"quantitative"},"text":{"field":"label"}}},
{"data":{"name":"arr"},"transform":[{"filter":"datum.p=='D'"}],"mark":{"type":"rule","color":"white","strokeWidth":3},"encoding":{"x":{"field":"x1","type":"quantitative"},"y":{"field":"y1","type":"quantitative"},"x2":{"field":"x2"},"y2":{"field":"y2"}}},
{"data":{"name":"arr"},"transform":[{"filter":"datum.p=='D'"}],"mark":{"type":"point","shape":"triangle-up","filled":true,"color":"white","size":289,"opacity":1,"strokeWidth":0},"encoding":{"x":{"field":"x2","type":"quantitative"},"y":{"field":"y2","type":"quantitative"},"angle":{"field":"angle","type":"quantitative","scale":null}}},
{"data":{"name":"let"},"transform":[{"filter":"datum.p=='D'"}],"mark":{"type":"rect","color":"white"},"encoding":{"x":{"field":"x1","type":"quantitative"},"x2":{"field":"x2"},"y":{"field":"y1","type":"quantitative"},"y2":{"field":"y2"}}},
{"data":{"name":"let"},"transform":[{"filter":"datum.p=='D'"}],"mark":{"type":"text","color":"#231f20","fontSize":26,"font":"Open Sans","fontWeight":"normal","align":"left","baseline":"alphabetic"},"encoding":{"x":{"field":"lx","type":"quantitative"},"y":{"field":"ly","type":"quantitative"},"text":{"field":"letter"}}}
]},
{"width":374,"height":433,"layer":[
{"data":{"name":"spec"},"transform":[{"filter":"datum.p=='E'"}],"mark":{"type":"line","color":"#5fb35f","strokeWidth":2.3,"strokeJoin":"round","clip":true},"encoding":{"x":{"field":"x","type":"quantitative","scale":{"domain":[21,1143],"nice":false,"zero":false},"axis":null},"y":{"field":"y","type":"quantitative","scale":{"domain":[27,1326],"reverse":true,"nice":false,"zero":false},"axis":null}}},
{"data":{"name":"lab"},"transform":[{"filter":"datum.p=='E'"}],"mark":{"type":"rect","color":"#2b2727"},"encoding":{"x":{"field":"x1","type":"quantitative"},"x2":{"field":"x2"},"y":{"field":"y1","type":"quantitative"},"y2":{"field":"y2"}}},
{"data":{"name":"lab"},"transform":[{"filter":"datum.p=='E'"}],"mark":{"type":"text","color":"white","fontSize":17,"font":"Liberation Sans","align":"center","baseline":"alphabetic"},"encoding":{"x":{"field":"tx","type":"quantitative"},"y":{"field":"ty","type":"quantitative"},"text":{"field":"label"}}},
{"data":{"name":"arr"},"transform":[{"filter":"datum.p=='E'"}],"mark":{"type":"rule","color":"white","strokeWidth":3},"encoding":{"x":{"field":"x1","type":"quantitative"},"y":{"field":"y1","type":"quantitative"},"x2":{"field":"x2"},"y2":{"field":"y2"}}},
{"data":{"name":"arr"},"transform":[{"filter":"datum.p=='E'"}],"mark":{"type":"point","shape":"triangle-up","filled":true,"color":"white","size":289,"opacity":1,"strokeWidth":0},"encoding":{"x":{"field":"x2","type":"quantitative"},"y":{"field":"y2","type":"quantitative"},"angle":{"field":"angle","type":"quantitative","scale":null}}},
{"data":{"name":"let"},"transform":[{"filter":"datum.p=='E'"}],"mark":{"type":"rect","color":"white"},"encoding":{"x":{"field":"x1","type":"quantitative"},"x2":{"field":"x2"},"y":{"field":"y1","type":"quantitative"},"y2":{"field":"y2"}}},
{"data":{"name":"let"},"transform":[{"filter":"datum.p=='E'"}],"mark":{"type":"text","color":"#231f20","fontSize":26,"font":"Open Sans","fontWeight":"normal","align":"left","baseline":"alphabetic"},"encoding":{"x":{"field":"lx","type":"quantitative"},"y":{"field":"ly","type":"quantitative"},"text":{"field":"letter"}}}
]},
{"width":363,"height":433,"layer":[
{"data":{"name":"spec"},"transform":[{"filter":"datum.p=='F'"}],"mark":{"type":"line","color":"#5fb35f","strokeWidth":2.3,"strokeJoin":"round","clip":true},"encoding":{"x":{"field":"x","type":"quantitative","scale":{"domain":[21,1110],"nice":false,"zero":false},"axis":null},"y":{"field":"y","type":"quantitative","scale":{"domain":[27,1326],"reverse":true,"nice":false,"zero":false},"axis":null}}},
{"data":{"name":"lab"},"transform":[{"filter":"datum.p=='F'"}],"mark":{"type":"rect","color":"#2b2727"},"encoding":{"x":{"field":"x1","type":"quantitative"},"x2":{"field":"x2"},"y":{"field":"y1","type":"quantitative"},"y2":{"field":"y2"}}},
{"data":{"name":"lab"},"transform":[{"filter":"datum.p=='F'"}],"mark":{"type":"text","color":"white","fontSize":17,"font":"Liberation Sans","align":"center","baseline":"alphabetic"},"encoding":{"x":{"field":"tx","type":"quantitative"},"y":{"field":"ty","type":"quantitative"},"text":{"field":"label"}}},
{"data":{"name":"arr"},"transform":[{"filter":"datum.p=='F'"}],"mark":{"type":"rule","color":"white","strokeWidth":3},"encoding":{"x":{"field":"x1","type":"quantitative"},"y":{"field":"y1","type":"quantitative"},"x2":{"field":"x2"},"y2":{"field":"y2"}}},
{"data":{"name":"arr"},"transform":[{"filter":"datum.p=='F'"}],"mark":{"type":"point","shape":"triangle-up","filled":true,"color":"white","size":289,"opacity":1,"strokeWidth":0},"encoding":{"x":{"field":"x2","type":"quantitative"},"y":{"field":"y2","type":"quantitative"},"angle":{"field":"angle","type":"quantitative","scale":null}}},
{"data":{"name":"let"},"transform":[{"filter":"datum.p=='F'"}],"mark":{"type":"rect","color":"white"},"encoding":{"x":{"field":"x1","type":"quantitative"},"x2":{"field":"x2"},"y":{"field":"y1","type":"quantitative"},"y2":{"field":"y2"}}},
{"data":{"name":"let"},"transform":[{"filter":"datum.p=='F'"}],"mark":{"type":"text","color":"#231f20","fontSize":26,"font":"Open Sans","fontWeight":"normal","align":"left","baseline":"alphabetic"},"encoding":{"x":{"field":"lx","type":"quantitative"},"y":{"field":"ly","type":"quantitative"},"text":{"field":"letter"}}}
]}
],"spacing":9,"bounds":"flush"},
{"hconcat":[
{"width":405,"height":402,"layer":[
{"data":{"name":"spec"},"transform":[{"filter":"datum.p=='G'"}],"mark":{"type":"line","color":"#5fb35f","strokeWidth":2.3,"strokeJoin":"round","clip":true},"encoding":{"x":{"field":"x","type":"quantitative","scale":{"domain":[24,1239],"nice":false,"zero":false},"axis":null},"y":{"field":"y","type":"quantitative","scale":{"domain":[30,1236],"reverse":true,"nice":false,"zero":false},"axis":null}}},
{"data":{"name":"lab"},"transform":[{"filter":"datum.p=='G'"}],"mark":{"type":"rect","color":"#2b2727"},"encoding":{"x":{"field":"x1","type":"quantitative"},"x2":{"field":"x2"},"y":{"field":"y1","type":"quantitative"},"y2":{"field":"y2"}}},
{"data":{"name":"lab"},"transform":[{"filter":"datum.p=='G'"}],"mark":{"type":"text","color":"white","fontSize":17,"font":"Liberation Sans","align":"center","baseline":"alphabetic"},"encoding":{"x":{"field":"tx","type":"quantitative"},"y":{"field":"ty","type":"quantitative"},"text":{"field":"label"}}},
{"data":{"name":"arr"},"transform":[{"filter":"datum.p=='G'"}],"mark":{"type":"rule","color":"white","strokeWidth":3},"encoding":{"x":{"field":"x1","type":"quantitative"},"y":{"field":"y1","type":"quantitative"},"x2":{"field":"x2"},"y2":{"field":"y2"}}},
{"data":{"name":"arr"},"transform":[{"filter":"datum.p=='G'"}],"mark":{"type":"point","shape":"triangle-up","filled":true,"color":"white","size":289,"opacity":1,"strokeWidth":0},"encoding":{"x":{"field":"x2","type":"quantitative"},"y":{"field":"y2","type":"quantitative"},"angle":{"field":"angle","type":"quantitative","scale":null}}},
{"data":{"name":"let"},"transform":[{"filter":"datum.p=='G'"}],"mark":{"type":"rect","color":"white"},"encoding":{"x":{"field":"x1","type":"quantitative"},"x2":{"field":"x2"},"y":{"field":"y1","type":"quantitative"},"y2":{"field":"y2"}}},
{"data":{"name":"let"},"transform":[{"filter":"datum.p=='G'"}],"mark":{"type":"text","color":"#231f20","fontSize":26,"font":"Open Sans","fontWeight":"normal","align":"left","baseline":"alphabetic"},"encoding":{"x":{"field":"lx","type":"quantitative"},"y":{"field":"ly","type":"quantitative"},"text":{"field":"letter"}}}
]},
{"width":374,"height":402,"layer":[
{"data":{"name":"spec"},"transform":[{"filter":"datum.p=='H'"}],"mark":{"type":"line","color":"#5fb35f","strokeWidth":2.3,"strokeJoin":"round","clip":true},"encoding":{"x":{"field":"x","type":"quantitative","scale":{"domain":[21,1143],"nice":false,"zero":false},"axis":null},"y":{"field":"y","type":"quantitative","scale":{"domain":[30,1236],"reverse":true,"nice":false,"zero":false},"axis":null}}},
{"data":{"name":"lab"},"transform":[{"filter":"datum.p=='H'"}],"mark":{"type":"rect","color":"#2b2727"},"encoding":{"x":{"field":"x1","type":"quantitative"},"x2":{"field":"x2"},"y":{"field":"y1","type":"quantitative"},"y2":{"field":"y2"}}},
{"data":{"name":"lab"},"transform":[{"filter":"datum.p=='H'"}],"mark":{"type":"text","color":"white","fontSize":17,"font":"Liberation Sans","align":"center","baseline":"alphabetic"},"encoding":{"x":{"field":"tx","type":"quantitative"},"y":{"field":"ty","type":"quantitative"},"text":{"field":"label"}}},
{"data":{"name":"arr"},"transform":[{"filter":"datum.p=='H'"}],"mark":{"type":"rule","color":"white","strokeWidth":3},"encoding":{"x":{"field":"x1","type":"quantitative"},"y":{"field":"y1","type":"quantitative"},"x2":{"field":"x2"},"y2":{"field":"y2"}}},
{"data":{"name":"arr"},"transform":[{"filter":"datum.p=='H'"}],"mark":{"type":"point","shape":"triangle-up","filled":true,"color":"white","size":289,"opacity":1,"strokeWidth":0},"encoding":{"x":{"field":"x2","type":"quantitative"},"y":{"field":"y2","type":"quantitative"},"angle":{"field":"angle","type":"quantitative","scale":null}}},
{"data":{"name":"let"},"transform":[{"filter":"datum.p=='H'"}],"mark":{"type":"rect","color":"white"},"encoding":{"x":{"field":"x1","type":"quantitative"},"x2":{"field":"x2"},"y":{"field":"y1","type":"quantitative"},"y2":{"field":"y2"}}},
{"data":{"name":"let"},"transform":[{"filter":"datum.p=='H'"}],"mark":{"type":"text","color":"#231f20","fontSize":26,"font":"Open Sans","fontWeight":"normal","align":"left","baseline":"alphabetic"},"encoding":{"x":{"field":"lx","type":"quantitative"},"y":{"field":"ly","type":"quantitative"},"text":{"field":"letter"}}}
]},
{"width":363,"height":402,"layer":[
{"data":{"name":"spec"},"transform":[{"filter":"datum.p=='I'"}],"mark":{"type":"line","color":"#5fb35f","strokeWidth":2.3,"strokeJoin":"round","clip":true},"encoding":{"x":{"field":"x","type":"quantitative","scale":{"domain":[21,1110],"nice":false,"zero":false},"axis":null},"y":{"field":"y","type":"quantitative","scale":{"domain":[30,1236],"reverse":true,"nice":false,"zero":false},"axis":null}}},
{"data":{"name":"lab"},"transform":[{"filter":"datum.p=='I'"}],"mark":{"type":"rect","color":"#2b2727"},"encoding":{"x":{"field":"x1","type":"quantitative"},"x2":{"field":"x2"},"y":{"field":"y1","type":"quantitative"},"y2":{"field":"y2"}}},
{"data":{"name":"lab"},"transform":[{"filter":"datum.p=='I'"}],"mark":{"type":"text","color":"white","fontSize":17,"font":"Liberation Sans","align":"center","baseline":"alphabetic"},"encoding":{"x":{"field":"tx","type":"quantitative"},"y":{"field":"ty","type":"quantitative"},"text":{"field":"label"}}},
{"data":{"name":"arr"},"transform":[{"filter":"datum.p=='I'"}],"mark":{"type":"rule","color":"white","strokeWidth":3},"encoding":{"x":{"field":"x1","type":"quantitative"},"y":{"field":"y1","type":"quantitative"},"x2":{"field":"x2"},"y2":{"field":"y2"}}},
{"data":{"name":"arr"},"transform":[{"filter":"datum.p=='I'"}],"mark":{"type":"point","shape":"triangle-up","filled":true,"color":"white","size":289,"opacity":1,"strokeWidth":0},"encoding":{"x":{"field":"x2","type":"quantitative"},"y":{"field":"y2","type":"quantitative"},"angle":{"field":"angle","type":"quantitative","scale":null}}},
{"data":{"name":"let"},"transform":[{"filter":"datum.p=='I'"}],"mark":{"type":"rect","color":"white"},"encoding":{"x":{"field":"x1","type":"quantitative"},"x2":{"field":"x2"},"y":{"field":"y1","type":"quantitative"},"y2":{"field":"y2"}}},
{"data":{"name":"let"},"transform":[{"filter":"datum.p=='I'"}],"mark":{"type":"text","color":"#231f20","fontSize":26,"font":"Open Sans","fontWeight":"normal","align":"left","baseline":"alphabetic"},"encoding":{"x":{"field":"lx","type":"quantitative"},"y":{"field":"ly","type":"quantitative"},"text":{"field":"letter"}}}
]}
],"spacing":9,"bounds":"flush"}
],
"spacing":9
}
